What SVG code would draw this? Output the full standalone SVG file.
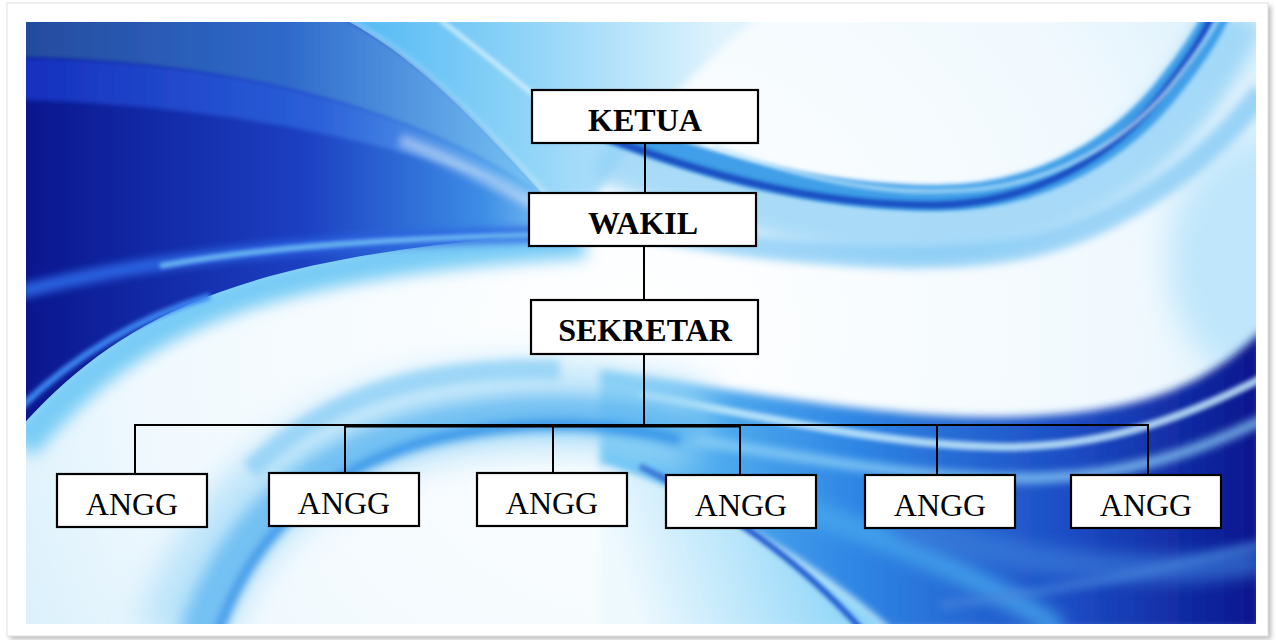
<svg xmlns="http://www.w3.org/2000/svg" width="1276" height="640" viewBox="0 0 1276 640">
<style>
.box{fill:#fff;stroke:#000;stroke-width:2.2}
.t1{font-family:"Liberation Serif","Times New Roman",serif;font-weight:bold;font-size:32px;text-anchor:middle;fill:#000}
.t2{font-family:"Liberation Serif","Times New Roman",serif;font-size:32px;text-anchor:middle;fill:#000}
.ln{stroke:#000;stroke-width:2;fill:none}
</style>
<defs>
<clipPath id="pic"><rect x="26" y="22" width="1230" height="602"/></clipPath>
<filter id="b2" filterUnits="userSpaceOnUse" x="0" y="0" width="1276" height="640"><feGaussianBlur stdDeviation="2"/></filter>
<filter id="b4" filterUnits="userSpaceOnUse" x="0" y="0" width="1276" height="640"><feGaussianBlur stdDeviation="4"/></filter>
<filter id="b8" filterUnits="userSpaceOnUse" x="0" y="0" width="1276" height="640"><feGaussianBlur stdDeviation="8"/></filter>
<filter id="b16" filterUnits="userSpaceOnUse" x="0" y="0" width="1276" height="640"><feGaussianBlur stdDeviation="16"/></filter>
<filter id="sh" filterUnits="userSpaceOnUse" x="0" y="0" width="1276" height="640"><feGaussianBlur stdDeviation="2.5"/></filter>
<linearGradient id="gA" gradientUnits="userSpaceOnUse" x1="26" y1="0" x2="585" y2="0">
<stop offset="0" stop-color="#0a168e"/><stop offset="0.5" stop-color="#1c40c2"/><stop offset="0.82" stop-color="#3d8ee6"/><stop offset="1" stop-color="#9ad8f8"/>
</linearGradient>
<linearGradient id="gTop" gradientUnits="userSpaceOnUse" x1="26" y1="0" x2="550" y2="0">
<stop offset="0" stop-color="#244c9e"/><stop offset="0.5" stop-color="#2f6acb"/><stop offset="1" stop-color="#7cc8f6"/>
</linearGradient>
<linearGradient id="gRoy" gradientUnits="userSpaceOnUse" x1="26" y1="0" x2="550" y2="0">
<stop offset="0" stop-color="#1630be"/><stop offset="0.55" stop-color="#2a5fd8"/><stop offset="1" stop-color="#6cbef4"/>
</linearGradient>
<linearGradient id="gC" gradientUnits="userSpaceOnUse" x1="335" y1="0" x2="720" y2="0">
<stop offset="0" stop-color="#4cb6f3"/><stop offset="0.5" stop-color="#8fd4f8"/><stop offset="1" stop-color="#dff3fd"/>
</linearGradient>
<linearGradient id="gD" gradientUnits="userSpaceOnUse" x1="640" y1="0" x2="1256" y2="0">
<stop offset="0" stop-color="#62bff3"/><stop offset="0.35" stop-color="#2f86e4"/><stop offset="0.7" stop-color="#1c4cc4"/><stop offset="1" stop-color="#0a168e"/>
</linearGradient>
<linearGradient id="gL" gradientUnits="userSpaceOnUse" x1="860" y1="560" x2="640" y2="630">
<stop offset="0" stop-color="#86d2f8"/><stop offset="1" stop-color="#eef9fe"/>
</linearGradient>
<radialGradient id="gBase" gradientUnits="userSpaceOnUse" cx="640" cy="330" r="700">
<stop offset="0" stop-color="#ffffff"/><stop offset="0.7" stop-color="#f1f9fe"/><stop offset="1" stop-color="#d9f0fc"/>
</radialGradient>
</defs>

<!-- frame -->
<rect x="10" y="6" width="1261" height="633" fill="#b8b8b8" filter="url(#sh)"/>
<rect x="7" y="3" width="1261" height="633" fill="#fff" stroke="#e2e2e2" stroke-width="1"/>

<!-- background picture -->
<g id="background" clip-path="url(#pic)">
<rect x="26" y="22" width="1230" height="602" fill="url(#gBase)"/>
<ellipse cx="1260" cy="260" rx="90" ry="120" fill="#bfe6fb" filter="url(#b16)"/>
<path d="M335,15 L760,15 C680,80 610,160 578,232 C495,140 420,55 335,15 Z" fill="url(#gC)" filter="url(#b4)"/>
<path d="M20,445 C80,372 150,322 250,290 C350,260 470,246 585,240" fill="none" stroke="#78ccf6" stroke-width="36" filter="url(#b8)"/>
<path d="M20,15 L335,15 C420,55 492,140 578,232 C470,240 330,252 220,292 C130,324 70,372 20,428 Z" fill="url(#gA)"/>
<path d="M20,15 L335,15 C410,50 472,112 548,200 C440,120 260,62 20,58 Z" fill="url(#gTop)" filter="url(#b2)"/>
<path d="M20,58 C260,62 440,120 548,200 C420,150 250,106 20,100 Z" fill="url(#gRoy)" filter="url(#b2)"/>
<path d="M20,292 C150,258 330,238 570,234" fill="none" stroke="#2a62e0" stroke-width="14" filter="url(#b4)"/>
<path d="M160,266 C270,246 400,238 560,234" fill="none" stroke="#7fd0fa" stroke-width="5" opacity="0.85" filter="url(#b2)"/>
<path d="M20,408 C70,360 130,320 210,296" fill="none" stroke="#3a84f0" stroke-width="7" filter="url(#b2)"/>
<path d="M440,20 C480,50 510,75 540,100" fill="none" stroke="#d8f2fd" stroke-width="4" filter="url(#b2)"/>
<path d="M400,140 C460,162 520,198 585,228" fill="none" stroke="#ffffff" stroke-width="12" opacity="0.45" filter="url(#b4)"/>

<!-- right-top arc -->
<path d="M600,150 C720,195 840,232 940,228 C1050,224 1135,165 1185,100 C1210,66 1225,40 1235,15" fill="none" stroke="#8fd0f6" stroke-width="60" opacity="0.75" filter="url(#b8)"/>
<path d="M640,228 C760,252 900,265 1000,252 C1100,240 1200,172 1262,92" fill="none" stroke="#7cc6f4" stroke-width="22" opacity="0.7" filter="url(#b4)"/>
<path transform="translate(7,-7)" d="M560,120 C650,155 780,205 930,205 C1040,205 1120,150 1165,90 C1190,58 1205,35 1212,15" fill="none" stroke="#3f9fe8" stroke-width="26" filter="url(#b2)"/>
<path d="M560,120 C650,155 780,205 930,205 C1040,205 1120,150 1165,90 C1190,58 1205,35 1212,15" fill="none" stroke="#1548c0" stroke-width="7" filter="url(#b2)"/>
<path transform="translate(14,-14)" d="M700,160 C780,190 860,208 930,205 C1040,205 1120,150 1165,90 C1190,58 1205,35 1212,15" fill="none" stroke="#c6eafc" stroke-width="3" filter="url(#b2)"/>

<!-- right lower region -->
<path d="M600,370 C740,390 890,420 1010,417 C1120,414 1200,395 1262,330 L1262,630 L890,630 C810,560 700,495 600,465 Z" fill="url(#gD)" filter="url(#b4)"/>
<path d="M600,465 C700,495 810,560 890,630 L600,630 Z" fill="url(#gL)" filter="url(#b4)"/>
<path d="M640,395 C760,415 880,445 1000,447 C1100,448 1180,420 1262,378" fill="none" stroke="#c4eafc" stroke-width="8" opacity="0.85" filter="url(#b2)"/>
<path d="M640,432 C760,447 900,482 1040,478 C1120,476 1190,455 1262,420" fill="none" stroke="#8fd2f8" stroke-width="10" opacity="0.8" filter="url(#b4)"/>
<path d="M640,466 C720,505 800,560 862,630" fill="none" stroke="#1c58d0" stroke-width="6" filter="url(#b2)"/>
<path d="M720,478 C830,520 960,560 1060,630" fill="none" stroke="#4aa8ee" stroke-width="22" opacity="0.8" filter="url(#b8)"/>
<path d="M900,525 C1020,565 1150,580 1262,560" fill="none" stroke="#3a7ad8" stroke-width="28" opacity="0.7" filter="url(#b8)"/>
<path d="M940,605 C1060,592 1180,565 1262,545" fill="none" stroke="#4a86dc" stroke-width="10" opacity="0.6" filter="url(#b4)"/>

<!-- bottom-left arcs -->
<path d="M180,640 C220,520 300,450 420,420 C520,398 620,405 700,430" fill="none" stroke="#a6dbf8" stroke-width="90" opacity="0.7" filter="url(#b16)"/>
<path d="M195,640 C232,525 308,458 425,428 C525,405 620,410 700,435" fill="none" stroke="#5ab4f0" stroke-width="36" opacity="0.75" filter="url(#b8)"/>
<path d="M215,640 C250,535 320,470 430,440 C520,418 600,420 680,440" fill="none" stroke="#2a8ce6" stroke-width="10" opacity="0.85" filter="url(#b4)"/>
<path d="M250,470 C330,392 430,366 560,370" fill="none" stroke="#8fd0f6" stroke-width="20" opacity="0.8" filter="url(#b4)"/>
</g>

<!-- connectors -->
<g id="connectors">
<line class="ln" x1="645" y1="143" x2="645" y2="193"/>
<line class="ln" x1="644" y1="246" x2="644" y2="300"/>
<line class="ln" x1="644" y1="354" x2="644" y2="426"/>
<line class="ln" x1="134" y1="425" x2="1149" y2="425"/>
<line class="ln" x1="345" y1="426.5" x2="740" y2="426.5"/>
<line class="ln" x1="135" y1="424" x2="135" y2="474"/>
<line class="ln" x1="345" y1="424" x2="345" y2="473"/>
<line class="ln" x1="553" y1="424" x2="553" y2="473"/>
<line class="ln" x1="740" y1="424" x2="740" y2="475"/>
<line class="ln" x1="937" y1="424" x2="937" y2="475"/>
<line class="ln" x1="1148" y1="424" x2="1148" y2="475"/>
</g>

<!-- nodes -->
<g id="ketua"><rect class="box" x="532" y="90" width="226" height="53"/><text class="t1" x="645" y="131">KETUA</text></g>
<g id="wakil"><rect class="box" x="529" y="193" width="227" height="53"/><text class="t1" x="643" y="234">WAKIL</text></g>
<g id="sekretar"><rect class="box" x="531" y="300" width="227" height="54"/><text class="t1" x="645" y="341">SEKRETAR</text></g>
<g id="angg1"><rect class="box" x="57" y="474" width="150" height="53"/><text class="t2" x="132" y="515">ANGG</text></g>
<g id="angg2"><rect class="box" x="269" y="473" width="150" height="53"/><text class="t2" x="344" y="514">ANGG</text></g>
<g id="angg3"><rect class="box" x="477" y="473" width="150" height="53"/><text class="t2" x="552" y="514">ANGG</text></g>
<g id="angg4"><rect class="box" x="666" y="475" width="150" height="53"/><text class="t2" x="741" y="516">ANGG</text></g>
<g id="angg5"><rect class="box" x="865" y="475" width="150" height="53"/><text class="t2" x="940" y="516">ANGG</text></g>
<g id="angg6"><rect class="box" x="1071" y="475" width="150" height="53"/><text class="t2" x="1146" y="516">ANGG</text></g>
</svg>
